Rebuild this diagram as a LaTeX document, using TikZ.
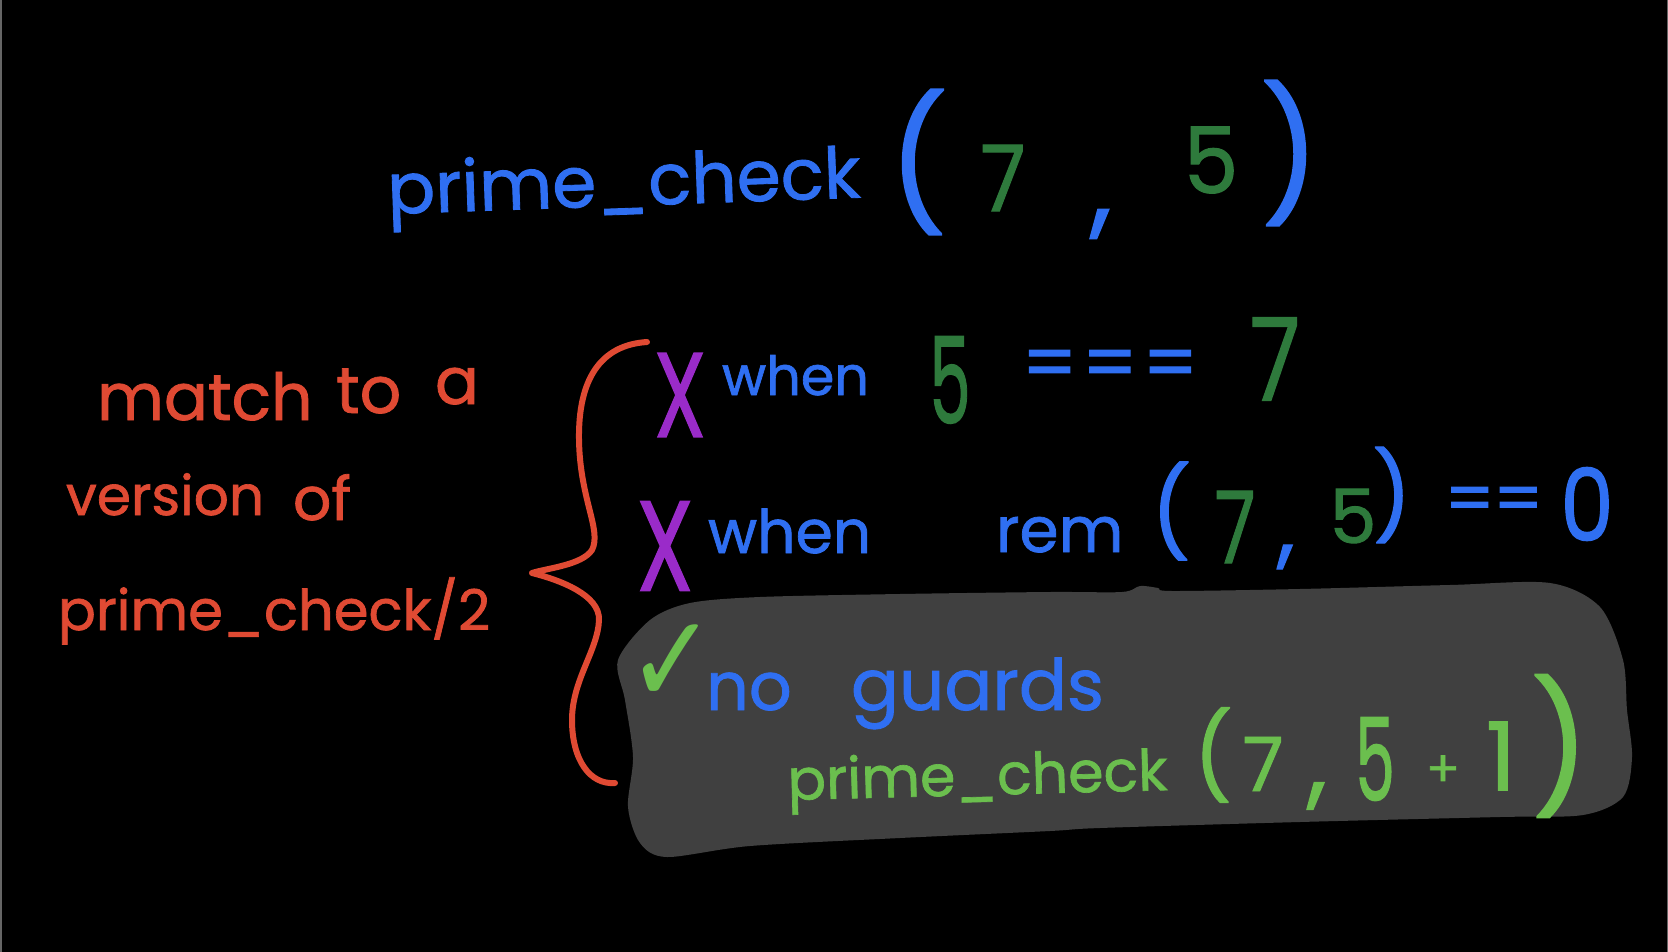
\documentclass[tikz,border=0pt]{standalone}
\usepackage{fontspec}
\usepackage{graphicx}
\setmainfont{Poppins}[FakeBold=1.2]
\newfontfamily\symfont{DejaVu Sans}
\definecolor{penblue}{HTML}{2F6FF2}
\definecolor{penred}{HTML}{E04A33}
\definecolor{pengreen}{HTML}{2E7A3C}
\definecolor{penlime}{HTML}{6BBF4E}
\definecolor{penpurple}{HTML}{9A2BC9}
\definecolor{blobgray}{HTML}{404040}
\newcommand{\fsz}[1]{\fontsize{#1}{#1}\selectfont}
\begin{document}
\begin{tikzpicture}[x=1pt,y=-1pt,
  hw/.style={inner sep=0pt,outer sep=0pt},
  tblue/.style={hw,text=penblue},
  tred/.style={hw,text=penred},
  tgreen/.style={hw,text=pengreen},
  tlime/.style={hw,text=penlime},
  tpurple/.style={hw,text=penpurple},
  bracestroke/.style={draw=penred,line width=6pt,line cap=round,line join=round}]
\useasboundingbox (0,0) rectangle (1668,952);
\fill[black] (0,0) rectangle (1668,952);
\draw[blobgray!80,line width=1.5pt] (0.75,0) -- (0.75,952);
\draw[blobgray!80,line width=1.5pt] (1667.25,0) -- (1667.25,952);

% highlighted blob
\fill[blobgray] plot[smooth cycle,tension=0.5] coordinates {
 (650,620) (690,603) (760,597) (900,594) (1050,592) (1122,592) (1140,586) (1158,588) (1172,591)
 (1300,589) (1450,585) (1550,583) (1600,607) (1623,660) (1627,710) (1632,757)
 (1623,797) (1583,815) (1500,817) (1300,822) (1100,828) (1050,831) (900,838)
 (750,846) (667,857) (640,843) (628,807) (633,757) (625,700) (618,660)};

% top expression
\node[tblue,anchor=base west,font=\fsz{71},rotate=2] (t1) at (388,214) {prime\_check};
\node[tblue,font=\fsz{130}] (t2) at (918,162) {(};
\node[tgreen,font=\fsz{92}] (t3) at (1003,178) {\scalebox{0.9}[1]{7}};
\node[tblue,font=\fsz{110}] (t4) at (1101,224) {,};
\node[tgreen,font=\fsz{92}] (t5) at (1211,160) {\scalebox{0.95}[1]{5}};
\node[tblue,font=\fsz{130}] (t6) at (1290,153) {)};

% left note
\node[tred,anchor=base west,font=\fsz{65}] (l1) at (97,420) {match};
\node[tred,anchor=base west,font=\fsz{65}] (l2) at (336,413) {to};
\node[tred,anchor=base west,font=\fsz{65}] (l3) at (435,404) {a};
\node[tred,anchor=base west,font=\fsz{55}] (l4) at (66,515) {version};
\node[tred,anchor=base west,font=\fsz{60}] (l5) at (293,520) {of};
\node[tred,anchor=base west,font=\fsz{56}] (l6) at (58,630) {prime\_check/2};

% brace
\draw[bracestroke] (647,342) .. controls (600,345) and (578,380) .. (579,440)
  .. controls (580,500) and (602,530) .. (592,550)
  .. controls (582,565) and (548,568) .. (532,573)
  .. controls (560,580) and (600,595) .. (599,620)
  .. controls (598,650) and (572,680) .. (572,720)
  .. controls (572,760) and (590,785) .. (615,783);

% row 1
\node[tpurple,font=\fsz{120}] (r1x) at (680,395) {\scalebox{0.7}[1]{X}};
\node[tblue,anchor=base west,font=\fsz{54}] (r1w) at (722,395) {when};
\node[tgreen,font=\fsz{120}] (r1a) at (950,380) {\scalebox{0.55}[1]{5}};
\node[tblue,font=\fsz{78}] (r1e) at (1110,370) {=\hspace{4pt}=\hspace{4pt}=};
\node[tgreen,font=\fsz{115}] (r1b) at (1275,359) {\scalebox{0.8}[1]{7}};

% row 2
\node[tpurple,font=\fsz{128}] (r2x) at (665,546) {\scalebox{0.72}[1]{X}};
\node[tblue,anchor=base west,font=\fsz{60}] (r2w) at (708,553) {when};
\node[tblue,anchor=base west,font=\fsz{63}] (r2r) at (996,552) {rem};
\node[tblue,font=\fsz{88}] (r2p) at (1171,511) {(};
\node[tgreen,font=\fsz{100}] (r2a) at (1235,527) {\scalebox{0.75}[1]{7}};
\node[tblue,font=\fsz{90}] (r2c) at (1286,557) {,};
\node[tgreen,font=\fsz{75}] (r2b) at (1353,516) {5};
\node[tblue,font=\fsz{86}] (r2q) at (1392,495) {)};
\node[tblue,font=\fsz{70}] (r2e) at (1494,505) {=\hspace{-2pt}=};
\node[tblue,font=\fsz{100}] (r2z) at (1587,504) {\scalebox{0.85}[1]{0}};

% accepted clause
\node[tlime,font=\symfont\fsz{125}] (ck) at (672,664) {\scalebox{0.85}[1]{✓}};
\node[tblue,anchor=base west,font=\fsz{67}] (b1) at (706,710) {no};
\node[tblue,anchor=base west,font=\fsz{71}] (b2) at (851,710) {guards};
\node[tlime,anchor=base west,font=\fsz{57},rotate=1.5] (b3) at (788,800) {prime\_check};
\node[tlime,font=\fsz{85}] (b4) at (1213,755) {(};
\node[tlime,font=\fsz{75}] (b5) at (1263,764) {7};
\node[tlime,font=\fsz{100}] (b6) at (1317,796) {,};
\node[tlime,font=\fsz{115}] (b7) at (1375,759) {\scalebox{0.55}[1]{5}};
\node[tlime,font=\fsz{50}] (b8) at (1443,771) {+};
\node[tlime,font=\fsz{95}] (b9) at (1501,756) {1};
\node[tlime,font=\fsz{128}] (b10) at (1560,746) {)};
\end{tikzpicture}
\end{document}
